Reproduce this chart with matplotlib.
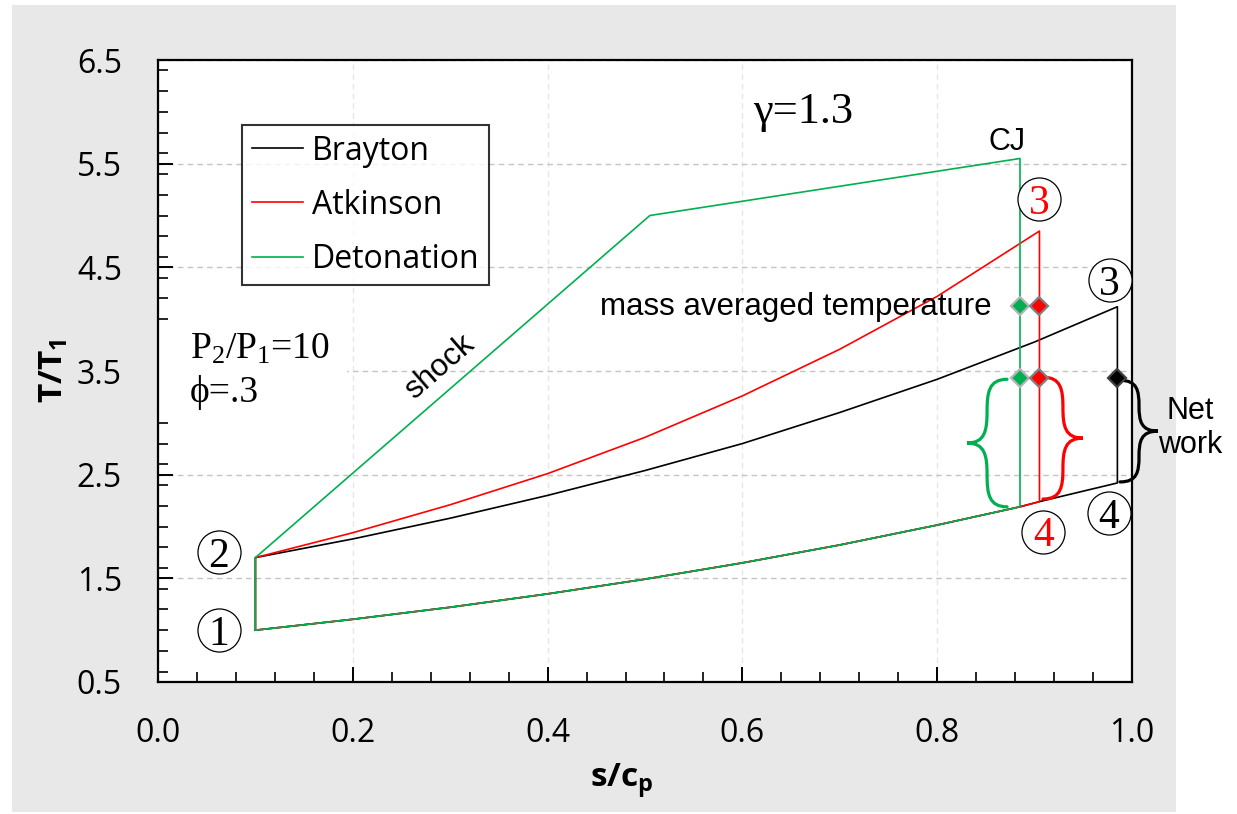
import matplotlib
matplotlib.use("Agg")
import matplotlib.pyplot as plt
from matplotlib.patches import Rectangle, PathPatch
from matplotlib.path import Path
from matplotlib.ticker import MultipleLocator

# ---- data ----
lower_s = [0.1, 0.2, 0.3, 0.4, 0.5, 0.6, 0.7, 0.8, 0.885, 0.905, 0.985]
lower_T = [1.0, 1.105, 1.221, 1.350, 1.492, 1.649, 1.822, 2.014, 2.19, 2.24, 2.42]

brayton_s = [0.1, 0.2, 0.3, 0.4, 0.5, 0.6, 0.7, 0.8, 0.9, 0.985]
brayton_T = [1.7, 1.88, 2.08, 2.30, 2.54, 2.80, 3.10, 3.42, 3.78, 4.12]

atkinson_s = [0.1, 0.2, 0.3, 0.4, 0.5, 0.6, 0.7, 0.8, 0.905]
atkinson_T = [1.7, 1.94, 2.21, 2.51, 2.86, 3.26, 3.71, 4.22, 4.85]

detonation_s = [0.1, 0.505, 0.885]
detonation_T = [1.7, 5.0, 5.55]

state1 = (0.1, 1.0)

avg_s = [0.885, 0.905]
avg_T = [4.13, 4.13]
work_s = [0.885, 0.905, 0.985]
work_T = [3.43, 3.43, 3.43]
work_colors = ["#00b050", "#ff0000", "#000000"]
work_edges = ["#b4b4b4", "#808080", "#404040"]

GREEN = "#00b050"
RED = "#ff0000"


def cycle(up_s, up_T):
    # closed loop: 1 -> 2 -> upper branch -> down to lower branch -> back to 1
    s_end = up_s[-1]
    lo = [(s, t) for s, t in zip(lower_s, lower_T) if s <= s_end + 1e-9]
    xs = [state1[0]] + list(up_s) + [p[0] for p in reversed(lo)]
    ys = [state1[1]] + list(up_T) + [p[1] for p in reversed(lo)]
    return xs, ys


def brace(ax, x0, y_top, y_bot, w, d, color):
    # curly brace, d=-1 opens left, d=+1 opens right
    pts = [(0, 0), (0.45, 0), (0.5, 0.1), (0.5, 0.25),
           (0.5, 0.4), (0.55, 0.5), (1, 0.5),
           (0.55, 0.5), (0.5, 0.6), (0.5, 0.75),
           (0.5, 0.9), (0.45, 1.0), (0, 1.0)]
    verts = [(x0 + d * u * w, y_top - v * (y_top - y_bot)) for u, v in pts]
    codes = [Path.MOVETO] + [Path.CURVE4] * 12
    ax.add_patch(PathPatch(Path(verts, codes), fill=False, edgecolor=color,
                           lw=2.3, capstyle="round", clip_on=False, zorder=5))


fig = plt.figure(figsize=(12.37, 8.14), dpi=100)
fig.patches.append(Rectangle((12 / 1237, 2 / 814), 1164 / 1237, 807 / 814,
                             transform=fig.transFigure, facecolor="#e8e8e8",
                             edgecolor="none", zorder=-10))
ax = fig.add_axes([158 / 1237, 132 / 814, 974 / 1237, 622 / 814])
ax.set_zorder(1)

tick_font = "Open Sans"
arial = "Liberation Sans"
serif = "Liberation Serif"

bx, by = cycle(brayton_s, brayton_T)
axs, ays = cycle(atkinson_s, atkinson_T)
dx, dy = cycle(detonation_s, detonation_T)
ax.plot(bx, by, color="black", lw=1.2, label="Brayton", zorder=3)
ax.plot(axs, ays, color=RED, lw=1.2, label="Atkinson", zorder=3)
ax.plot(dx, dy, color=GREEN, lw=1.2, label="Detonation", zorder=3)

# mass averaged temperature markers
for s, t, c, e in zip(avg_s, avg_T, work_colors, work_edges):
    ax.plot([s], [t], marker="D", ms=9, color=c, mec=e, mew=1.6, zorder=6)
for s, t, c, e in zip(work_s, work_T, work_colors, work_edges):
    ax.plot([s], [t], marker="D", ms=9, color=c, mec=e, mew=1.6, zorder=6,
            clip_on=False)

# braces
brace(ax, 0.8717, 3.42, 2.19, 0.041, -1, GREEN)
brace(ax, 0.9086, 3.44, 2.265, 0.041, 1, RED)
brace(ax, 0.9877, 3.41, 2.43, 0.039, 1, "black")

# axes styling
ax.set_xlim(0.0, 1.0)
ax.set_ylim(0.5, 6.5)
ax.xaxis.set_minor_locator(MultipleLocator(0.04))
ax.yaxis.set_minor_locator(MultipleLocator(0.2))
ax.set_xticks([0.0, 0.2, 0.4, 0.6, 0.8, 1.0])
ax.set_xticklabels(["0.0", "0.2", "0.4", "0.6", "0.8", "1.0"])
ax.set_yticks([0.5, 1.5, 2.5, 3.5, 4.5, 5.5, 6.5])
ax.set_yticklabels(["0.5", "1.5", "2.5", "3.5", "4.5", "5.5", "6.5"])
ax.tick_params(which="major", direction="in", length=11, width=1.4,
               labelsize=23)
ax.xaxis.set_tick_params(which="major", pad=25)
ax.yaxis.set_tick_params(which="major", pad=26)
ax.tick_params(which="minor", direction="in", length=7, width=1.2)
for lab in ax.get_xticklabels() + ax.get_yticklabels():
    lab.set_fontfamily(tick_font)
for sp in ax.spines.values():
    sp.set_linewidth(1.6)
ax.set_axisbelow(True)
ax.yaxis.grid(True, color="#c4c4c4", ls=(0, (4, 3)), lw=1.0)
ax.xaxis.grid(True, color="#e6e6e6", ls=(0, (4, 3)), lw=1.0)

ax.set_xlabel("s/c$_\\mathregular{p}$", fontfamily=tick_font, fontweight="bold",
              fontsize=24)
ax.xaxis.set_label_coords(0.476, -0.128)
ax.set_ylabel("T/T$_\\mathregular{1}$", fontfamily=tick_font, fontweight="bold",
              fontsize=24)
ax.yaxis.set_label_coords(-0.090, 0.5)

# white box behind the P2/P1 note
ax.add_patch(Rectangle((0.0, 3.1), 0.194, 0.8, facecolor="white",
                       edgecolor="none", zorder=1))

leg = ax.legend(loc="upper left", bbox_to_anchor=(0.0862, 0.8955),
                borderaxespad=0, frameon=True, fancybox=False,
                prop={"family": tick_font, "size": 23}, handlelength=1.6,
                handletextpad=0.3, labelspacing=0.66, borderpad=0.3)
leg.get_frame().set_edgecolor("black")
leg.get_frame().set_linewidth(1.5)

# annotations
ax.text(0.611, 5.89, "γ=1.3", fontfamily=serif, fontsize=32)
ax.text(0.0329, 3.624, r"$\mathregular{P_2/P_1}$=10", fontfamily=serif,
        fontsize=27, zorder=2)
ax.text(0.0329, 3.20, "ϕ=.3", fontfamily=serif, fontsize=27, zorder=2)
ax.text(0.8717, 5.63, "CJ", fontfamily=arial, fontsize=22, ha="center")
ax.text(0.4538, 4.039, "mass averaged temperature", fontfamily=arial,
        fontsize=22.5)
ax.text(0.2895, 3.537, "shock", fontfamily=arial, fontsize=22.5, rotation=41,
        rotation_mode="anchor", ha="center", va="center")
ax.text(1.0595, 2.95, "Net\nwork", fontfamily=arial, fontsize=22, ha="center",
        va="center", multialignment="center", linespacing=1.15,
        clip_on=False)

circles = [("1", 0.0626, 1.001, "black"), ("2", 0.0626, 1.754, "black"),
           ("3", 0.905, 5.158, RED), ("3", 0.977, 4.377, "black"),
           ("4", 0.976, 2.130, "black"), ("4", 0.909, 1.95, RED)]
for txt, cx, cy, col in circles:
    ax.plot([cx], [cy], marker="o", ms=31, mfc="white", mec="black", mew=0.9,
            zorder=7, clip_on=False)
    ax.annotate(txt, xy=(cx, cy), xytext=(0, -10.5), textcoords="offset points",
                ha="center", va="baseline", fontfamily=serif, fontsize=30,
                color=col, zorder=8, annotation_clip=False)

fig.savefig("out.png", dpi=100, facecolor="white")
